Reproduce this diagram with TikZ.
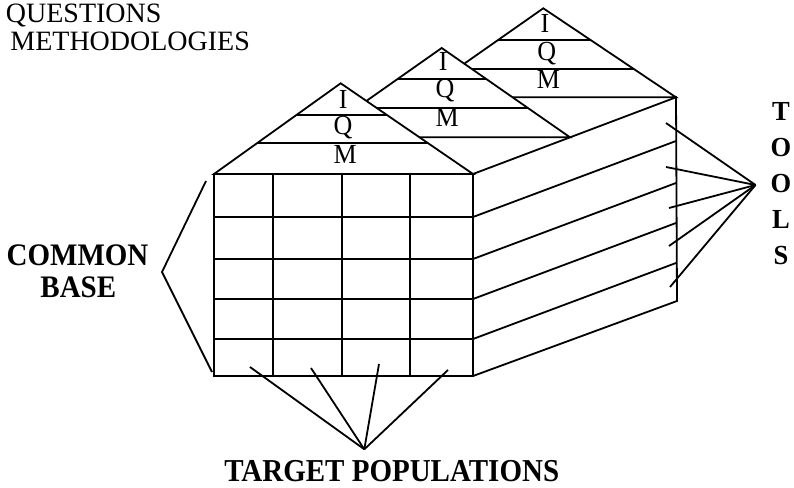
\documentclass[tikz,border=0pt]{standalone}
\usepackage{fontspec}
\setmainfont{Liberation Serif}
\usetikzlibrary{calc}
\newcommand{\tallt}[2]{\scalebox{1}[#1]{#2}}
\begin{document}
\begin{tikzpicture}[x=1pt,y=-1pt,line width=1.8pt,line join=miter,
  edge/.style={line width=1.8pt},
  bigbold/.style={inner sep=0pt,anchor=base,font=\fontsize{29}{29}\selectfont\bfseries},
  toolsl/.style={inner sep=0pt,anchor=base,font=\fontsize{26.5}{26.5}\selectfont\bfseries},
  roofl/.style={inner sep=0pt,anchor=base,font=\fontsize{26}{26}\selectfont},
  keyl/.style={inner sep=0pt,anchor=base west,font=\fontsize{28}{28}\selectfont}]
\useasboundingbox (0,0) rectangle (794,487);

% ---------- right (depth) face ----------
\coordinate (fTR) at (473,174);
\coordinate (fBR) at (473,376);
\coordinate (bTR) at (676,97.3);
\coordinate (bBR) at (677,301);
\draw[edge] (fTR) -- (bTR) -- (bBR) -- (fBR);
\foreach \yy [count=\i] in {217,259,299,339}{
  \coordinate (fr\i) at (473,\yy);
  \coordinate (br\i) at ($(fr\i)+(203,-76)$);
  \draw[edge] (fr\i) -- (br\i);
}

% ---------- roof 3 (back) ----------
\coordinate (A3) at (543.3,8.3);
\coordinate (L3) at (416.3,97.3);
\coordinate (R3) at (676,97.3);
\filldraw[edge,fill=white] (L3) -- (A3) -- (R3) -- cycle;
\draw[edge] ($(A3)!0.356!(L3)$) -- ($(A3)!0.356!(R3)$);
\draw[edge] ($(A3)!0.685!(L3)$) -- ($(A3)!0.685!(R3)$);
\node[roofl] (i3) at (545,32.5) {\tallt{1.06}{I}};
\node[roofl] (q3) at (546.7,60.5) {\tallt{1.06}{Q}};
\node[roofl] (m3) at (548.3,88) {\tallt{1.06}{M}};

% ---------- roof 2 (middle) ----------
\coordinate (A2) at (441.7,48);
\coordinate (L2) at (314.7,137.3);
\coordinate (R2) at (570,137.3);
\filldraw[edge,fill=white] (L2) -- (A2) -- (R2) -- cycle;
\draw[edge] ($(A2)!0.344!(L2)$) -- ($(A2)!0.344!(R2)$);
\draw[edge] ($(A2)!0.675!(L2)$) -- ($(A2)!0.675!(R2)$);
\node[roofl] (i2) at (443.3,70.5) {\tallt{1.06}{I}};
\node[roofl] (q2) at (445,97.5) {\tallt{1.06}{Q}};
\node[roofl] (m2) at (447.3,126.5) {\tallt{1.06}{M}};

% ---------- roof 1 (front) ----------
\coordinate (A1) at (340.7,83.3);
\coordinate (L1) at (214,174);
\coordinate (R1) at (473,174);
\filldraw[edge,fill=white] (L1) -- (A1) -- (R1) -- cycle;
\draw[edge] ($(A1)!0.349!(L1)$) -- ($(A1)!0.349!(R1)$);
\draw[edge] ($(A1)!0.658!(L1)$) -- ($(A1)!0.658!(R1)$);
\node[roofl] (i1) at (343.3,108.5) {\tallt{1.06}{I}};
\node[roofl] (q1) at (343,134.5) {\tallt{1.06}{Q}};
\node[roofl] (m1) at (345.3,163.5) {\tallt{1.06}{M}};

% ---------- front grid ----------
\draw[edge] (214,174) rectangle (473,376);
\foreach \xx in {273,342,410}{ \draw[edge] (\xx,174) -- (\xx,376); }
\foreach \yy in {217,259,299,339}{ \draw[edge] (214,\yy) -- (473,\yy); }

% ---------- TOOLS ----------
\coordinate (tc) at (755.5,185);
\coordinate (t1) at (666,123);
\coordinate (t2) at (666,167);
\coordinate (t3) at (669,208);
\coordinate (t4) at (669,246);
\coordinate (t5) at (670,287);
\foreach \i in {1,...,5}{ \draw[edge] (t\i) -- (tc); }
\node[toolsl] (tT) at (781,120) {\tallt{1.04}{T}};
\node[toolsl] (tO1) at (781,156) {\tallt{1.04}{O}};
\node[toolsl] (tO2) at (781,192) {\tallt{1.04}{O}};
\node[toolsl] (tL) at (781,228) {\tallt{1.04}{L}};
\node[toolsl] (tS) at (781,264) {\tallt{1.04}{S}};

% ---------- COMMON BASE ----------
\coordinate (cb) at (162,272);
\coordinate (cbt) at (206,181);
\coordinate (cbb) at (212,372);
\draw[edge] (cbt) -- (cb) -- (cbb);
\node[bigbold] (common) at (77.5,265) {\tallt{1.08}{COMMON}};
\node[bigbold] (base) at (78.3,297.3) {\tallt{1.08}{BASE}};

% ---------- TARGET POPULATIONS ----------
\coordinate (tp) at (364.3,449.3);
\coordinate (p1) at (250,367);
\coordinate (p2) at (311,368);
\coordinate (p3) at (379,364);
\coordinate (p4) at (448,370);
\foreach \i in {1,...,4}{ \draw[edge] (p\i) -- (tp); }
\node[bigbold] (target) at (391.7,481.5) {\tallt{1.1}{TARGET POPULATIONS}};

% ---------- key (top left) ----------
\node[keyl] (kq) at (5,23) {QUESTIONS};
\node[keyl] (km) at (9.5,50) {METHODOLOGIES};
\end{tikzpicture}
\end{document}
